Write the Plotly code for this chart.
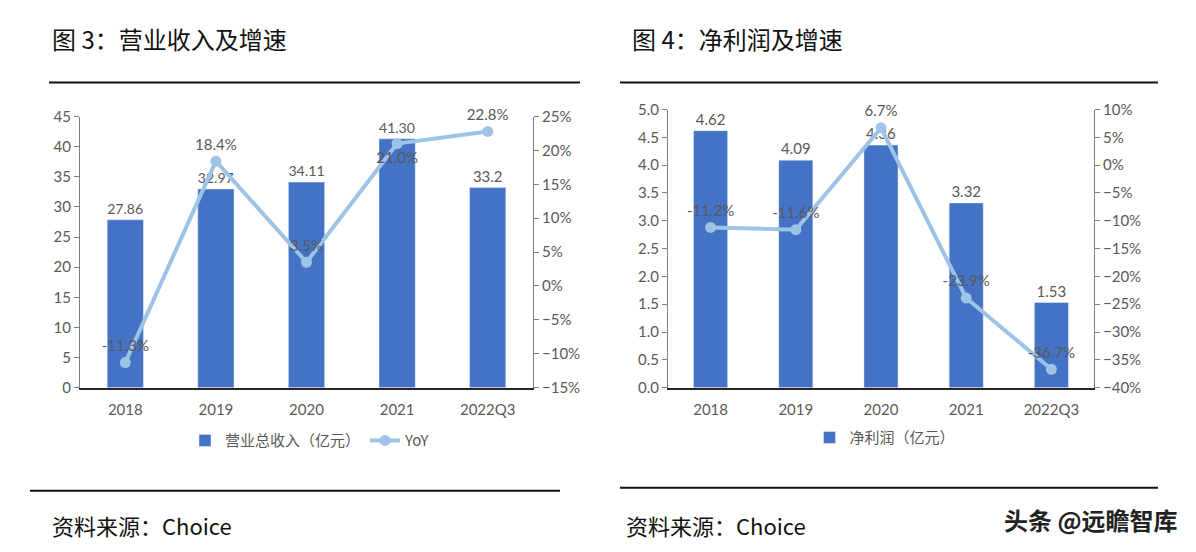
import plotly.graph_objects as go

# Figure is sized to fit inside the 1196x552 window after the default 8px body margin
OFF = 8
W, H = 1196 - 2 * OFF, 552 - 2 * OFF
# empirical vertical calibration of the photographed page
VS, VB = 0.966, 9.8

categories = ["2018", "2019", "2020", "2021", "2022Q3"]
revenue = [27.86, 32.97, 34.11, 41.30, 33.2]
revenue_labels = ["27.86", "32.97", "34.11", "41.30", "33.2"]
revenue_yoy = [-11.3, 18.4, 3.5, 21.0, 22.8]
profit = [4.62, 4.09, 4.36, 3.32, 1.53]
profit_labels = ["4.62", "4.09", "4.36", "3.32", "1.53"]
profit_yoy = [-11.2, -11.6, 6.7, -23.9, -36.7]

BAR = "#4472C4"
LINE = "#9DC3E6"
TXT = "#595959"
TICKFONT = dict(family="Lato, Noto Sans CJK SC, sans-serif", size=15, color=TXT)
CJK = "Noto Sans CJK SC, sans-serif"

def px(x):
    return (x - OFF) / W

def py(y):
    y = (y - VB) / VS
    return 1 - (y - OFF) / H

fig = go.Figure()

# Left chart
fig.add_trace(go.Bar(
    x=categories, y=revenue, name="营业总收入（亿元）", marker_color=BAR, width=0.4,
    text=revenue_labels, textposition="outside", cliponaxis=False,
    textfont=TICKFONT, xaxis="x", yaxis="y", legend="legend",
))
fig.add_trace(go.Scatter(
    x=categories, y=revenue_yoy, name="YoY", mode="lines+markers+text",
    line=dict(color=LINE, width=4), marker=dict(size=11, color=LINE),
    text=[f"{v:.1f}%" for v in revenue_yoy],
    textposition=["top center", "top center", "top center", "bottom center", "top center"],
    textfont=TICKFONT, cliponaxis=False, xaxis="x", yaxis="y2", legend="legend",
))

# Right chart
fig.add_trace(go.Bar(
    x=categories, y=profit, name="净利润（亿元）", marker_color=BAR, width=0.4,
    text=profit_labels, textposition="outside", cliponaxis=False,
    textfont=TICKFONT, xaxis="x3", yaxis="y3", legend="legend2",
))
fig.add_trace(go.Scatter(
    x=categories, y=profit_yoy, name="YoY", mode="lines+markers+text",
    line=dict(color=LINE, width=4), marker=dict(size=11, color=LINE),
    text=[f"{v:.1f}%" for v in profit_yoy], textposition="top center",
    textfont=TICKFONT, cliponaxis=False, xaxis="x3", yaxis="y4", showlegend=False,
))

yaxis_common = dict(showgrid=False, zeroline=False, showline=True, linecolor="#7F7F7F",
                    linewidth=1, ticks="outside", ticklen=5, tickcolor="#7F7F7F",
                    tickfont=TICKFONT)
xaxis_common = dict(showgrid=False, zeroline=False, showline=True, linecolor="#262626",
                    linewidth=2, ticks="", tickfont=TICKFONT, type="category",
                    ticklabelstandoff=7)

ydom = [py(387), py(116)]
ydom2 = [py(387), py(109)]

fig.update_layout(
    width=W, height=H, autosize=False,
    margin=dict(l=0, r=0, t=0, b=0),
    paper_bgcolor="white", plot_bgcolor="white",
    xaxis=dict(domain=[px(80), px(533)], anchor="y", **xaxis_common),
    yaxis=dict(domain=ydom, range=[0, 45], dtick=5, anchor="x", **yaxis_common),
    yaxis2=dict(domain=ydom, range=[-15, 25], dtick=5, ticksuffix="%", overlaying="y",
                side="right", anchor="x", **yaxis_common),
    xaxis3=dict(domain=[px(668), px(1094)], anchor="y3", **xaxis_common),
    yaxis3=dict(domain=ydom2, range=[0, 5], dtick=0.5, tickformat=".1f", anchor="x3",
                **yaxis_common),
    yaxis4=dict(domain=ydom2, range=[-40, 10], dtick=5, ticksuffix="%", overlaying="y3",
                side="right", anchor="x3", **yaxis_common),
    legend=dict(orientation="h", x=px(310), y=py(440), xanchor="center", yanchor="middle",
                font=dict(family=CJK, size=15, color=TXT), bgcolor="rgba(0,0,0,0)"),
    legend2=dict(orientation="h", x=px(885), y=py(437), xanchor="center", yanchor="middle",
                 font=dict(family=CJK, size=15, color=TXT), bgcolor="rgba(0,0,0,0)"),
    showlegend=True,
)

# Titles, rules, footers
fig.add_annotation(text="图 3：营业收入及增速", x=px(50), y=py(38), xref="paper", yref="paper",
                   xanchor="left", yanchor="middle", showarrow=False,
                   font=dict(family=CJK, size=24, color="#111111"))
fig.add_annotation(text="图 4：净利润及增速", x=px(630), y=py(38), xref="paper", yref="paper",
                   xanchor="left", yanchor="middle", showarrow=False,
                   font=dict(family=CJK, size=24, color="#111111"))
fig.add_annotation(text="资料来源：Choice", x=px(50), y=py(524), xref="paper", yref="paper",
                   xanchor="left", yanchor="middle", showarrow=False,
                   font=dict(family=CJK, size=22, color="#111111"))
fig.add_annotation(text="资料来源：Choice", x=px(624), y=py(524), xref="paper", yref="paper",
                   xanchor="left", yanchor="middle", showarrow=False,
                   font=dict(family=CJK, size=22, color="#111111"))
fig.add_annotation(text="头条 @远瞻智库", x=px(1180), y=py(519), xref="paper", yref="paper",
                   xanchor="right", yanchor="middle", showarrow=False,
                   font=dict(family=CJK, size=24, color="#222222", weight="bold"))

for x0, x1, y in [(49, 580, 82), (620, 1158, 82), (30, 560, 490), (620, 1158, 487)]:
    fig.add_shape(type="line", xref="paper", yref="paper", x0=px(x0), x1=px(x1),
                  y0=py(y), y1=py(y), line=dict(color="#111111", width=2))

fig.write_html("out.html")
